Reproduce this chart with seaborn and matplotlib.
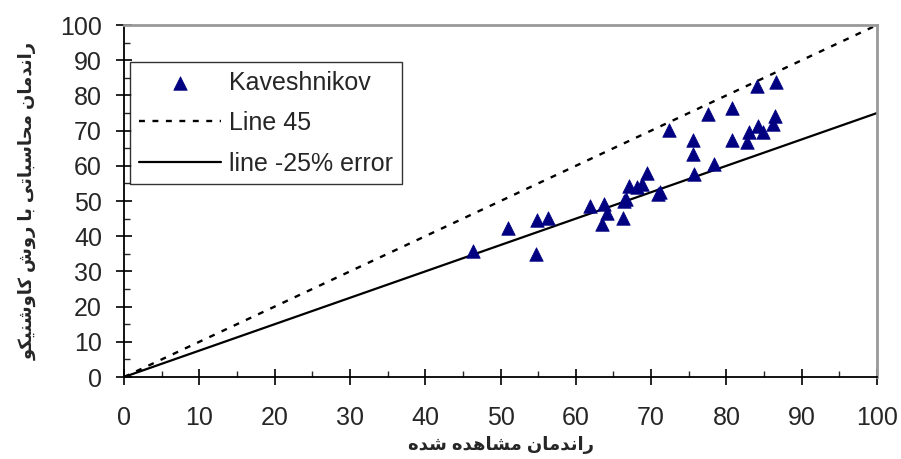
import matplotlib
matplotlib.use("Agg")
import matplotlib.pyplot as plt
import seaborn as sns
import pandas as pd
from matplotlib.ticker import MultipleLocator

# -------------------- data --------------------
observed = [46.3, 51.0, 54.7, 54.9, 56.3, 61.9, 63.5, 63.8, 64.1, 66.3,
            66.4, 66.6, 67.1, 68.1, 68.8, 69.4, 71.2, 70.9, 72.4, 75.5,
            75.5, 75.7, 77.5, 78.3, 80.8, 80.8, 82.7, 83.0, 84.1, 84.2,
            84.9, 86.2, 86.4, 86.6]
calculated = [35.9, 42.2, 34.9, 44.6, 45.2, 48.6, 43.5, 49.1, 46.7, 45.3,
              50.1, 50.6, 54.3, 53.9, 54.8, 58.1, 52.5, 52.0, 70.2, 67.3,
              63.3, 57.7, 74.7, 60.5, 76.5, 67.3, 66.7, 69.7, 82.7, 71.4,
              69.7, 71.9, 74.2, 83.8]
line_x = [0, 100]
line_45 = [0, 100]
line_25 = [0, 75]

x_label_fa = "راندمان مشاهده شده"
y_label_fa = "راندمان محاسباتی با روش کاوشنیکو"

# -------------------- persian shaping (no arabic_reshaper here) --------------------
FORMS = {
    "ا": ("\uFE8D", "\uFE8E"),
    "ب": ("\uFE8F", "\uFE90", "\uFE91", "\uFE92"),
    "ت": ("\uFE95", "\uFE96", "\uFE97", "\uFE98"),
    "ح": ("\uFEA1", "\uFEA2", "\uFEA3", "\uFEA4"),
    "د": ("\uFEA9", "\uFEAA"),
    "ر": ("\uFEAD", "\uFEAE"),
    "س": ("\uFEB1", "\uFEB2", "\uFEB3", "\uFEB4"),
    "ش": ("\uFEB5", "\uFEB6", "\uFEB7", "\uFEB8"),
    "م": ("\uFEE1", "\uFEE2", "\uFEE3", "\uFEE4"),
    "ن": ("\uFEE5", "\uFEE6", "\uFEE7", "\uFEE8"),
    "ه": ("\uFEE9", "\uFEEA", "\uFEEB", "\uFEEC"),
    "و": ("\uFEED", "\uFEEE"),
    "ی": ("\uFBFC", "\uFBFD", "\uFBFE", "\uFBFF"),
    "ک": ("\uFB8E", "\uFB8F", "\uFB90", "\uFB91"),
}


def shape(text):
    out = []
    for i, c in enumerate(text):
        if c not in FORMS:
            out.append(c)
            continue
        prev_j = i > 0 and text[i - 1] in FORMS and len(FORMS[text[i - 1]]) == 4
        next_j = len(FORMS[c]) == 4 and i + 1 < len(text) and text[i + 1] in FORMS
        if prev_j and next_j:
            out.append(FORMS[c][3])
        elif prev_j:
            out.append(FORMS[c][1])
        elif next_j:
            out.append(FORMS[c][2])
        else:
            out.append(FORMS[c][0])
    return "".join(out)[::-1]


# -------------------- plot --------------------
sns.set_style("ticks")
plt.rcParams["font.family"] = ["Liberation Sans", "DejaVu Sans"]

df = pd.DataFrame({"observed": observed, "calculated": calculated})
lines = pd.DataFrame({"x": line_x, "y45": line_45, "y25": line_25})

fig = plt.figure(figsize=(9.01, 4.59), dpi=100)
ax = fig.add_axes([0.1376, 0.1786, 0.8358, 0.7669])

sns.scatterplot(data=df, x="observed", y="calculated", marker="^", s=95,
                color="#000080", edgecolor="#000080", linewidth=0.5,
                label="Kaveshnikov", ax=ax, zorder=3)
sns.lineplot(data=lines, x="x", y="y45", color="black", lw=1.7,
             linestyle=(0, (2.5, 3.2)), label="Line 45", ax=ax)
sns.lineplot(data=lines, x="x", y="y25", color="black", lw=1.6,
             label="line -25% error", ax=ax)

ax.set_xlim(0, 100)
ax.set_ylim(0, 100)
ax.xaxis.set_major_locator(MultipleLocator(10))
ax.yaxis.set_major_locator(MultipleLocator(10))
ax.xaxis.set_minor_locator(MultipleLocator(5))
ax.yaxis.set_minor_locator(MultipleLocator(5))
ax.tick_params(which="major", direction="inout", length=11.5, width=1.2,
               labelsize=18, color="black")
ax.tick_params(which="minor", direction="in", length=4.5, width=1.0)
ax.tick_params(axis="x", which="major", pad=15)
ax.tick_params(axis="y", which="major", pad=10)

for side in ["left", "bottom"]:
    ax.spines[side].set_color("black")
    ax.spines[side].set_linewidth(1.3)
for side in ["top", "right"]:
    ax.spines[side].set_visible(True)
    ax.spines[side].set_color("#999999")
    ax.spines[side].set_linewidth(2)

ax.set_xlabel(shape(x_label_fa), fontsize=13, fontweight="bold")
ax.set_ylabel(shape(y_label_fa), fontsize=13, fontweight="bold")
ax.xaxis.set_label_coords(0.5, -0.168)
ax.yaxis.set_label_coords(-0.116, 0.5)

leg = ax.legend(loc="upper left", bbox_to_anchor=(0.008, 0.895), borderaxespad=0,
                fontsize=18, frameon=True, fancybox=False, handlelength=3.3,
                handletextpad=0.32, labelspacing=0.66, borderpad=0.35)
leg.get_frame().set_edgecolor("black")
leg.get_frame().set_linewidth(1.0)

fig.savefig("out.png", dpi=100)
